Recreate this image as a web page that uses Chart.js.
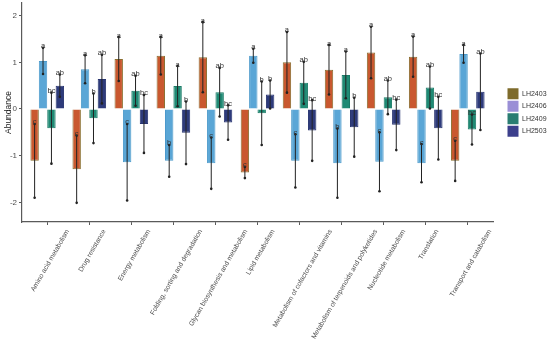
<!DOCTYPE html>
<html><head><meta charset="utf-8">
<script src="https://cdn.jsdelivr.net/npm/chart.js@4.4.1/dist/chart.umd.min.js"></script>
<style>html,body{margin:0;padding:0;background:#fff;}#wrap{width:550px;height:340px;position:relative;}</style>
</head><body><div id="wrap"><canvas id="c"></canvas></div>
<script>
const categories = ['Amino acid metabolism','Drug resistance','Energy metabolism','Folding, sorting and degradation','Glycan biosynthesis and metabolism','Lipid metabolism','Metabolism of cofactors and vitamins','Metabolism of terpenoids and polyketides','Nucleotide metabolism','Translation','Transport and catabolism'];
const seriesNames = ['LH2403','LH2406','LH2409','LH2503'];

const meanLH2403 = [-1.11, -1.29, 1.07, 1.14, 1.11, -1.36, 1.00, 0.84, 1.21, 1.12, -1.11];
const sdLH2403   = [0.79, 0.72, 0.47, 0.40, 0.75, 0.12, 0.65, 0.53, 0.55, 0.43, 0.43];
const lettersLH2403 = ['c','c','a','a','a','c','a','a','a','a','c'];

const meanLH2406 = [1.03, 0.85, -1.14, -1.11, -1.16, 1.14, -1.11, -1.16, -1.13, -1.16, 1.18];
const sdLH2406   = [0.28, 0.30, 0.82, 0.34, 0.55, 0.15, 0.57, 0.74, 0.63, 0.41, 0.19];
const lettersLH2406 = ['a','a','c','b','c','a','c','b','c','c','a'];

const meanLH2409 = [-0.41, -0.20, 0.39, 0.49, 0.36, -0.09, 0.56, 0.73, 0.25, 0.46, -0.44];
const sdLH2409   = [0.76, 0.53, 0.32, 0.43, 0.52, 0.68, 0.45, 0.50, 0.36, 0.45, 0.32];
const lettersLH2409 = ['bc','b','ab','a','ab','b','ab','a','ab','ab','bc'];

const meanLH2503 = [0.50, 0.64, -0.32, -0.51, -0.29, 0.31, -0.46, -0.39, -0.34, -0.41, 0.37];
const sdLH2503   = [0.24, 0.52, 0.62, 0.67, 0.37, 0.30, 0.65, 0.63, 0.54, 0.67, 0.82];
const lettersLH2503 = ['ab','ab','bc','b','bc','b','bc','b','bc','bc','ab'];

const yTicks = [-2, -1, 0, 1, 2];

const barColors = ['#c9582f', '#5aa6d6', '#1f8a74', '#2e3b7b'];
const barBorders = ['#8a6e2f', '#4c9acb', '#1a7a66', '#283470'];
const legendColors = ['#7e6b2b', '#9a8fd6', '#2a7d72', '#3c3f8c'];

const seriesList = [
  {name: seriesNames[0], mean: meanLH2403, sd: sdLH2403, letters: lettersLH2403},
  {name: seriesNames[1], mean: meanLH2406, sd: sdLH2406, letters: lettersLH2406},
  {name: seriesNames[2], mean: meanLH2409, sd: sdLH2409, letters: lettersLH2409},
  {name: seriesNames[3], mean: meanLH2503, sd: sdLH2503, letters: lettersLH2503}
];

const FONT = 'Liberation Sans, Arial, sans-serif';
Chart.defaults.font.family = FONT;

const errPlugin = {
  id: 'errbars',
  beforeDraw(chart) {
    const sc = chart.scales.x;
    const items = sc.getLabelItems(chart.chartArea);
    if (items._shifted) return;
    items._shifted = true;
    const ctx = chart.ctx;
    ctx.save();
    items.forEach(it => {
      ctx.font = it.font.string;
      const w = ctx.measureText(it.label).width;
      const rot = it.options.rotation;
      const t = it.options.translation;
      it.options.translation = [t[0] + w * Math.abs(Math.cos(rot)) / 2, t[1]];
    });
    ctx.restore();
  },
  afterDatasetsDraw(chart) {
    const ctx = chart.ctx, y = chart.scales.y;
    ctx.save();
    seriesList.forEach((s, di) => {
      const meta = chart.getDatasetMeta(di);
      meta.data.forEach((bar, i) => {
        const hi = y.getPixelForValue(s.mean[i] + s.sd[i]);
        const lo = y.getPixelForValue(s.mean[i] - s.sd[i]);
        ctx.strokeStyle = '#222'; ctx.lineWidth = 1;
        ctx.beginPath(); ctx.moveTo(bar.x, hi); ctx.lineTo(bar.x, lo); ctx.stroke();
        ctx.fillStyle = '#222';
        ctx.beginPath(); ctx.arc(bar.x, lo, 1.3, 0, Math.PI*2); ctx.fill();
        ctx.beginPath(); ctx.arc(bar.x, hi, 1.3, 0, Math.PI*2); ctx.fill();
      });
    });
    ctx.font = '7.5px ' + FONT;
    ctx.textAlign = 'center';
    ctx.textBaseline = 'alphabetic';
    ctx.fillStyle = '#333';
    seriesList.forEach((s, di) => {
      const meta = chart.getDatasetMeta(di);
      meta.data.forEach((bar, i) => {
        const hi = y.getPixelForValue(s.mean[i] + s.sd[i]);
        ctx.fillText(s.letters[i], bar.x, hi + 0.5);
      });
    });
    ctx.restore();
  }
};

new Chart(document.getElementById('c'), {
  type: 'bar',
  data: {
    datasets: seriesList.map((s, di) => ({
      label: s.name,
      data: s.mean.map((v, i) => ({x: i, y: v})),
      backgroundColor: barColors[di],
      borderColor: barBorders[di],
      borderWidth: 1,
      categoryPercentage: 0.8,
      barPercentage: 1.0
    }))
  },
  options: {
    responsive: true,
    maintainAspectRatio: false,
    animation: false,
    devicePixelRatio: 1,
    layout: {padding: {top: 3, right: 3, left: 0, bottom: 0}},
    scales: {
      x: {
        type: 'linear', min: -0.6, max: 10.6, offset: false,
        afterBuildTicks: s => { s.ticks = categories.map((_, i) => ({value: i})); },
        afterFit: s => { s.height = 118; s.paddingLeft = 0; s.paddingRight = 0; },
        grid: {display: true, drawOnChartArea: false, drawTicks: true, tickLength: 3, color: '#5a5a5a', offset: false},
        border: {display: true, color: '#5a5a5a', width: 1.2},
        ticks: {autoSkip: false, minRotation: 60, maxRotation: 60, padding: 3, labelOffset: 3, color: '#4d4d4d', font: {size: 6.8, family: FONT},
          callback: v => categories[v] ?? ''}
      },
      y: {
        min: -2.42, max: 2.27,
        afterBuildTicks: s => { s.ticks = yTicks.map(v => ({value: v})); },
        afterFit: s => { s.width = 22; s.paddingTop = 0; s.paddingBottom = 0; },
        grid: {display: true, drawOnChartArea: false, drawTicks: true, tickLength: 3, color: '#5a5a5a'},
        border: {display: true, color: '#5a5a5a', width: 1.2},
        ticks: {padding: 2, color: '#4d4d4d', font: {size: 8, family: FONT}},
        title: {display: true, text: 'Abundance', color: '#222', font: {size: 8.5, family: FONT}, padding: {top: 4, bottom: 0}}
      },
      gap: {
        position: 'right', display: true,
        grid: {display: false}, border: {display: false}, ticks: {display: false},
        afterFit: s => { s.width = 13; s.paddingTop = 0; s.paddingBottom = 0; }
      }
    },
    plugins: {
      tooltip: {enabled: false},
      legend: {
        position: 'right', fullSize: false, align: 'center', maxWidth: 41,
        labels: {
          boxWidth: 11, boxHeight: 11, padding: 1.5, color: '#333', font: {size: 7, family: FONT},
          generateLabels: chart => seriesNames.map((n, i) => ({text: n, fillStyle: legendColors[i], strokeStyle: legendColors[i], lineWidth: 0, hidden: false, datasetIndex: i, fontColor: '#333'}))
        }
      }
    }
  },
  plugins: [errPlugin]
});
</script>
</body></html>
